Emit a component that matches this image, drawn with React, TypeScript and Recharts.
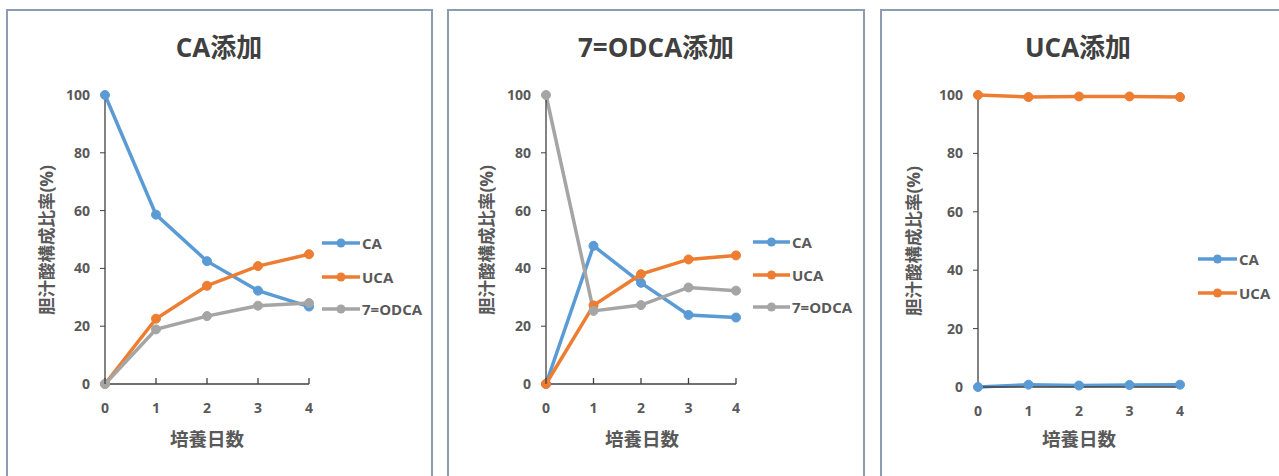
import React from 'react';
import { LineChart, Line, XAxis, YAxis } from 'recharts';

// Culture day (x axis)
const days = [0, 1, 2, 3, 4];
const yTicks = [0, 20, 40, 60, 80, 100];

// CA添加
const caAddCA = [100, 58.6, 42.5, 32.3, 26.8];
const caAddUCA = [0, 22.6, 34.0, 40.8, 44.9];
const caAddODCA = [0, 18.9, 23.5, 27.1, 28.0];

// 7=ODCA添加
const odcaAddCA = [0, 47.8, 35.0, 23.9, 23.0];
const odcaAddUCA = [0, 27.2, 38.0, 43.1, 44.5];
const odcaAddODCA = [100, 25.3, 27.3, 33.4, 32.3];

// UCA添加
const ucaAddCA = [0, 0.8, 0.5, 0.7, 0.8];
const ucaAddUCA = [100, 99.3, 99.5, 99.5, 99.3];

const COLORS: Record<string, string> = {
  CA: '#5B9BD5',
  UCA: '#ED7D31',
  '7=ODCA': '#A5A5A5',
};

const FONT = "'Open Sans', 'Noto Sans CJK JP', sans-serif";
const TEXT = '#595959';
const AXIS = '#404040';
const FRAME = '#8d9cb1';

type Series = { name: string; values: number[] };

type PanelProps = {
  title: string;
  series: Series[];
  frame: { left: number; width: number };
  svgLeft: number;
  svgWidth: number;
  plot: { left: number; right: number; top: number; bottom: number };
  titleX: number;
  xLabelX: number;
  yLabelX: number;
  legend: { lineLeft: number; lineRight: number; ys: number[] };
  xTickMarks: boolean;
};

const Y_AXIS_W = 50;
const X_AXIS_H = 30;
const H = 476;

function makeXTick(showMark: boolean) {
  return (props: any) => {
    const { x, y, payload } = props;
    return (
      <g>
        {showMark && <line x1={x} x2={x} y1={y} y2={y - 6} stroke={AXIS} strokeWidth={1.3} />}
        <text
          x={x}
          y={y + 23}
          textAnchor="middle"
          dominantBaseline="central"
          fill={TEXT}
          fontSize={14}
          fontWeight={700}
          fontFamily={FONT}
        >
          {payload.value}
        </text>
      </g>
    );
  };
}

function Panel(p: PanelProps) {
  const data = days.map((d, i) => {
    const row: Record<string, number> = { day: d };
    p.series.forEach((s) => {
      row[s.name] = s.values[i];
    });
    return row;
  });
  const margin = {
    top: p.plot.top,
    bottom: H - p.plot.bottom - X_AXIS_H,
    left: p.plot.left - p.svgLeft - Y_AXIS_W,
    right: p.svgLeft + p.svgWidth - p.plot.right,
  };
  const yMid = (p.plot.top + p.plot.bottom) / 2;
  return (
    <>
      <div
        style={{
          position: 'absolute',
          left: p.frame.left,
          top: 9,
          width: p.frame.width,
          height: 490,
          border: `2px solid ${FRAME}`,
          boxSizing: 'border-box',
          background: '#ffffff',
        }}
      />
      <div style={{ position: 'absolute', left: p.svgLeft, top: 0 }}>
        <LineChart width={p.svgWidth} height={H} data={data} margin={margin}>
          <XAxis
            dataKey="day"
            type="number"
            domain={[0, 4]}
            ticks={days}
            height={X_AXIS_H}
            axisLine={{ stroke: AXIS, strokeWidth: 1.3 }}
            tickLine={false}
            tickSize={0}
            tickMargin={0}
            tick={makeXTick(p.xTickMarks)}
            interval={0}
          />
          <YAxis
            type="number"
            domain={[0, 100]}
            ticks={yTicks}
            width={Y_AXIS_W}
            axisLine={{ stroke: AXIS, strokeWidth: 1.3 }}
            tickLine={{ stroke: AXIS, strokeWidth: 1 }}
            tickSize={5}
            tickMargin={10}
            tick={{ fill: TEXT, fontSize: 14, fontWeight: 700, fontFamily: FONT }}
            interval={0}
          />
          {p.series.map((s) => (
            <Line
              key={s.name}
              dataKey={s.name}
              type="linear"
              stroke={COLORS[s.name]}
              strokeWidth={3.5}
              dot={{ r: 4.5, fill: COLORS[s.name], stroke: COLORS[s.name], strokeWidth: 1 }}
              isAnimationActive={false}
            />
          ))}
        </LineChart>
      </div>
      {/* title */}
      <div
        style={{
          position: 'absolute',
          left: p.titleX - 150,
          width: 300,
          top: 47 - 18,
          lineHeight: '36px',
          textAlign: 'center',
          fontFamily: FONT,
          fontWeight: 700,
          fontSize: 26,
          color: '#404040',
          whiteSpace: 'nowrap',
        }}
      >
        {p.title}
      </div>
      {/* x axis title */}
      <div
        style={{
          position: 'absolute',
          left: p.xLabelX - 100,
          width: 200,
          top: 439 - 13,
          lineHeight: '26px',
          textAlign: 'center',
          fontFamily: FONT,
          fontWeight: 700,
          fontSize: 18.5,
          color: TEXT,
          whiteSpace: 'nowrap',
        }}
      >
        培養日数
      </div>
      {/* y axis title */}
      <div
        style={{
          position: 'absolute',
          left: p.yLabelX - 120,
          width: 240,
          top: yMid - 12,
          lineHeight: '24px',
          textAlign: 'center',
          fontFamily: FONT,
          fontWeight: 700,
          fontSize: 17.5,
          color: TEXT,
          whiteSpace: 'nowrap',
          transform: 'rotate(-90deg)',
        }}
      >
        胆汁酸構成比率(%)
      </div>
      {/* legend */}
      {p.series.map((s, i) => {
        const y = p.legend.ys[i];
        const w = p.legend.lineRight - p.legend.lineLeft;
        return (
          <div
            key={s.name}
            style={{
              position: 'absolute',
              left: p.legend.lineLeft,
              top: y - 12,
              height: 24,
              display: 'flex',
              alignItems: 'center',
              whiteSpace: 'nowrap',
            }}
          >
            <svg width={w} height={24} style={{ display: 'block' }}>
              <line x1={0} x2={w} y1={12} y2={12} stroke={COLORS[s.name]} strokeWidth={3.5} />
              <circle cx={w / 2} cy={12} r={4.5} fill={COLORS[s.name]} />
            </svg>
            <span
              style={{
                marginLeft: 2,
                fontFamily: FONT,
                fontWeight: 700,
                fontSize: 15,
                color: TEXT,
              }}
            >
              {s.name}
            </span>
          </div>
        );
      })}
    </>
  );
}

export default function App() {
  return (
    <div
      style={{
        position: 'absolute',
        left: 0,
        top: 0,
        width: 1279,
        height: 476,
        overflow: 'hidden',
        background: '#ffffff',
      }}
    >
      <Panel
        title="CA添加"
        series={[
          { name: 'CA', values: caAddCA },
          { name: 'UCA', values: caAddUCA },
          { name: '7=ODCA', values: caAddODCA },
        ]}
        frame={{ left: 6, width: 427 }}
        svgLeft={0}
        svgWidth={440}
        plot={{ left: 105, right: 309, top: 95, bottom: 384 }}
        titleX={219}
        xLabelX={207}
        yLabelX={46}
        legend={{ lineLeft: 322, lineRight: 360, ys: [243, 277, 309] }}
        xTickMarks={true}
      />
      <Panel
        title="7=ODCA添加"
        series={[
          { name: 'CA', values: odcaAddCA },
          { name: 'UCA', values: odcaAddUCA },
          { name: '7=ODCA', values: odcaAddODCA },
        ]}
        frame={{ left: 447, width: 418 }}
        svgLeft={440}
        svgWidth={440}
        plot={{ left: 546, right: 736, top: 95, bottom: 384 }}
        titleX={656}
        xLabelX={642}
        yLabelX={486}
        legend={{ lineLeft: 753, lineRight: 790, ys: [242, 275, 307] }}
        xTickMarks={true}
      />
      <Panel
        title="UCA添加"
        series={[
          { name: 'CA', values: ucaAddCA },
          { name: 'UCA', values: ucaAddUCA },
        ]}
        frame={{ left: 880, width: 420 }}
        svgLeft={880}
        svgWidth={399}
        plot={{ left: 978, right: 1180, top: 95, bottom: 387 }}
        titleX={1078}
        xLabelX={1079}
        yLabelX={913}
        legend={{ lineLeft: 1198, lineRight: 1237, ys: [259, 293] }}
        xTickMarks={false}
      />
    </div>
  );
}
